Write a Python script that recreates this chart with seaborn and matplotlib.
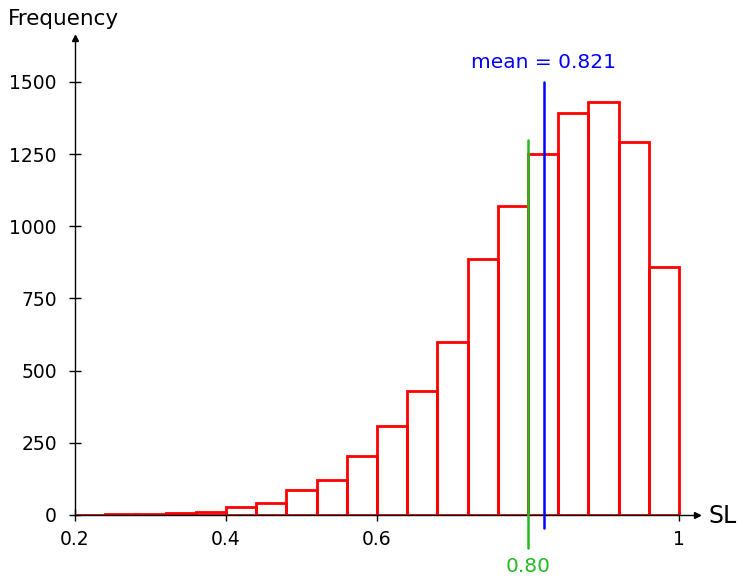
import matplotlib
matplotlib.use("Agg")
import matplotlib.pyplot as plt
import seaborn as sns
import numpy as np

# --- DATA ---
bin_edges = [0.20, 0.24, 0.28, 0.32, 0.36, 0.40, 0.44, 0.48, 0.52, 0.56, 0.60,
             0.64, 0.68, 0.72, 0.76, 0.80, 0.84, 0.88, 0.92, 0.96, 1.00]
counts = [1, 2, 4, 6, 9, 28, 42, 87, 121, 204, 308,
          430, 599, 887, 1070, 1250, 1392, 1430, 1292, 859]
mean_sl = 0.821
threshold = 0.80
y_ticks = [0, 250, 500, 750, 1000, 1250, 1500]
x_ticks = [0.2, 0.4, 0.6, 1.0]
x_tick_labels = ["0.2", "0.4", "0.6", "1"]

sns.set_style("white")
plt.rcParams["font.family"] = ["DejaVu Sans"]
plt.rcParams["text.color"] = "black"

fig = plt.figure(figsize=(7.39, 5.78), dpi=100)
ax = fig.add_axes([75 / 739, 63 / 578, 622 / 739, 477 / 578])

bin_left = np.array(bin_edges[:-1])
sns.histplot(x=bin_left, weights=counts, bins=bin_edges, fill=False,
             color="red", linewidth=2, ax=ax, zorder=2)

ax.set_xlim(0.2, 1.0238)
ax.set_ylim(0, 1652)

# mean and threshold lines
ax.plot([mean_sl, mean_sl], [-45, 1500], color="blue", lw=1.8, clip_on=False, zorder=3)
ax.text(mean_sl, 1535, "mean = 0.821", color="blue", ha="center", va="bottom", fontsize=14.5)
ax.plot([threshold, threshold], [-115, 1300], color="#22bb22", lw=1.8, clip_on=False, zorder=3)
ax.text(threshold, -178, "0.80", color="#22bb22", ha="center", va="center", fontsize=14.5)

# axis style
for s in ["top", "right"]:
    ax.spines[s].set_visible(False)
ax.spines["left"].set_color("black")
ax.spines["bottom"].set_color("black")
ax.spines["left"].set_linewidth(1)
ax.spines["bottom"].set_linewidth(1)
ax.plot(1, 0, ">k", transform=ax.transAxes, clip_on=False, markersize=5)
ax.plot(0, 1, "^k", transform=ax.transAxes, clip_on=False, markersize=5)

ax.set_xticks(x_ticks)
ax.set_xticklabels(x_tick_labels)
ax.set_yticks(y_ticks)
ax.tick_params(direction="inout", length=8, width=1, labelsize=13.5, colors="black",
               left=True, bottom=True)
ax.tick_params(axis="y", pad=9)
ax.tick_params(axis="x", pad=7)
ax.set_xlabel("")
ax.set_ylabel("")
fig.text(8 / 739, 1 - 19 / 578, "Frequency", fontsize=15.5, va="center", ha="left")
fig.text(709 / 739, 1 - 516 / 578, "SL", fontsize=17, va="center", ha="left")

fig.savefig("out.png", dpi=100)
